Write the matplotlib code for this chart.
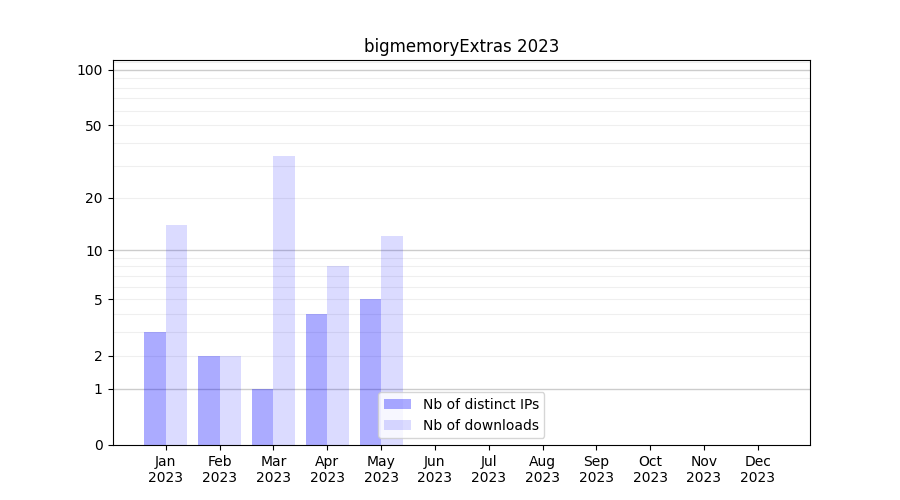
import matplotlib.pyplot as plt
import numpy as np

months = ['Jan', 'Feb', 'Mar', 'Apr', 'May', 'Jun', 'Jul', 'Aug', 'Sep', 'Oct', 'Nov', 'Dec']
year = '2023'
distinct_ips = [3, 2, 1, 4, 5, 0, 0, 0, 0, 0, 0, 0]
downloads = [14, 2, 34, 8, 12, 0, 0, 0, 0, 0, 0, 0]
y_ticks = [0, 1, 2, 5, 10, 20, 50, 100]

# log(x+1) scale so that 0 fits on the axis
def fwd(v):
    return np.log10(np.clip(v, -0.999, None) + 1)

def inv(v):
    return 10 ** v - 1

fig, ax = plt.subplots(figsize=(9, 5), dpi=100)
x = np.arange(len(months))
w = 0.4

ax.bar(x - w / 2, distinct_ips, width=w, color='blue', alpha=0.33, label='Nb of distinct IPs')
ax.bar(x + w / 2, downloads, width=w, color='blue', alpha=0.14, label='Nb of downloads')

ax.set_yscale('function', functions=(fwd, inv))
ax.set_ylim(0, 113)
ax.set_xlim(-0.99, 11.97)
ax.set_yticks(y_ticks)
ax.set_yticklabels([str(t) for t in y_ticks])

# light lines at every 1..9 x decade, darker at the decades
light = list(range(2, 10)) + list(range(20, 100, 10)) + [110]
for v in light:
    ax.axhline(v, color='grey', alpha=0.12, linewidth=0.8, zorder=0)
for v in [1, 10, 100]:
    ax.axhline(v, color='grey', alpha=0.4, linewidth=1, zorder=0)

ax.set_xticks(x)
ax.set_xticklabels([f'{m}\n{year}' for m in months])
ax.set_title('bigmemoryExtras 2023')
ax.legend(loc='lower center')

plt.savefig('out.png', dpi=100)
